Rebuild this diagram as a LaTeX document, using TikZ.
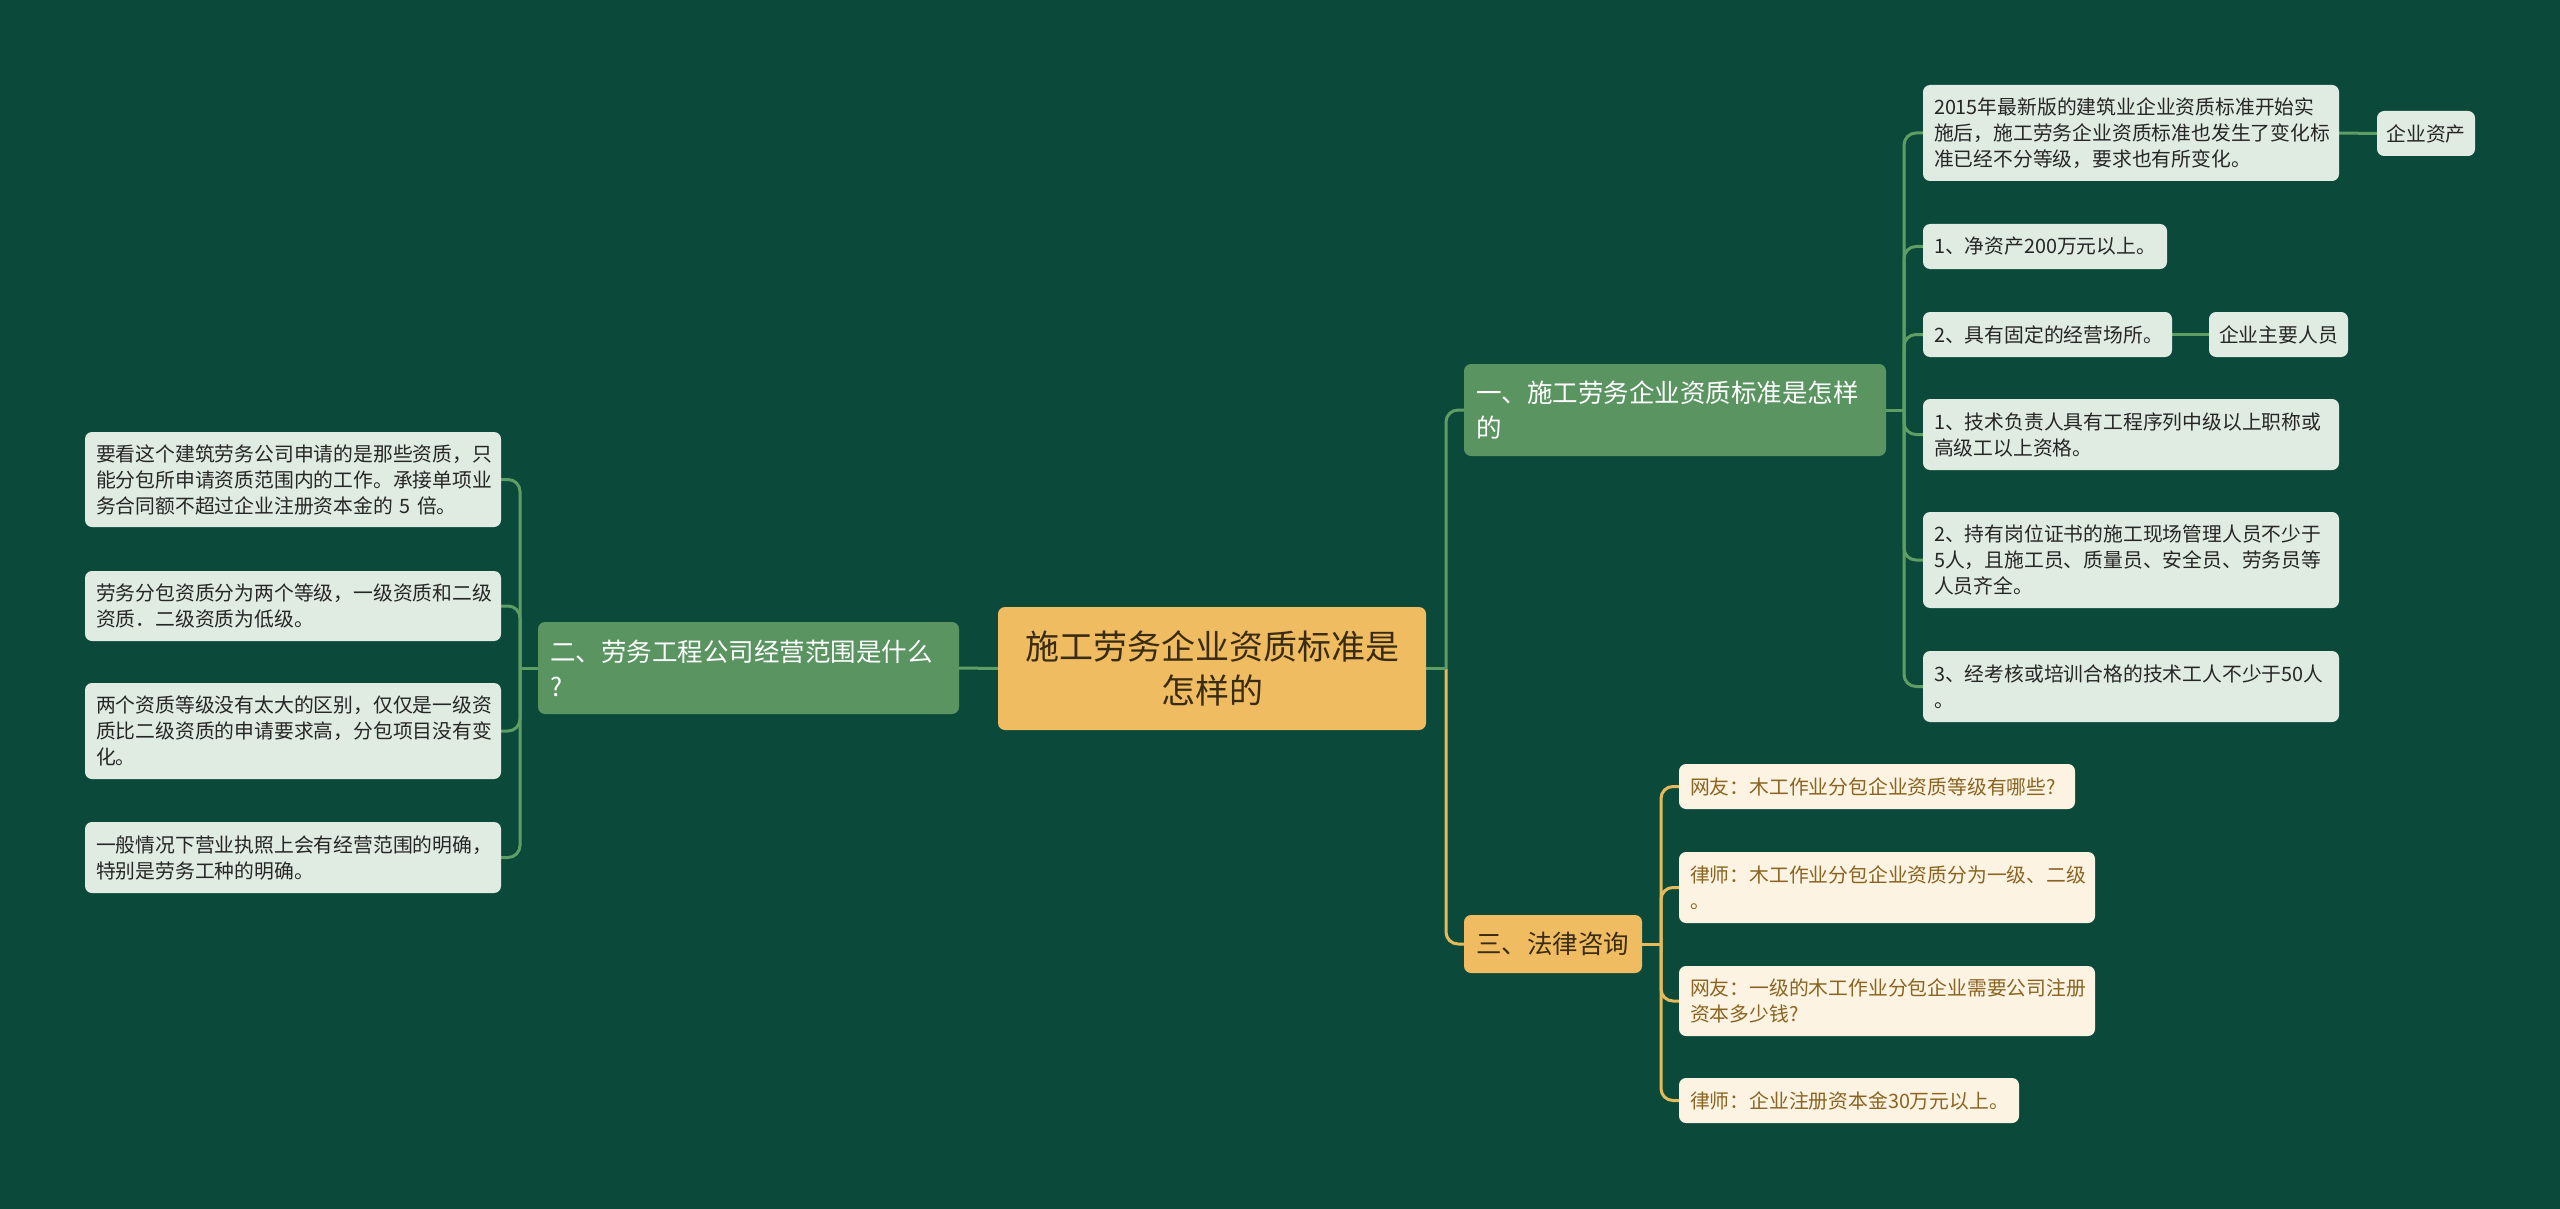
\documentclass[tikz,border=0pt]{standalone}
\usepackage{fontspec}
\setmainfont{Noto Sans CJK SC}
\usetikzlibrary{backgrounds}
\definecolor{bg}{HTML}{0B4A3A}
\definecolor{gnode}{HTML}{5A9461}
\definecolor{gleaf}{HTML}{E0EBE1}
\definecolor{onode}{HTML}{F0BC62}
\definecolor{cleaf}{HTML}{FCF3E3}
\definecolor{gline}{HTML}{5E9E64}
\definecolor{oline}{HTML}{E4BA5C}
\definecolor{btext}{HTML}{8A6420}
\definecolor{dtext}{HTML}{262626}
\definecolor{ctext}{HTML}{3A2C12}
\tikzset{
 box/.style={rounded corners=7pt, inner xsep=11pt, inner ysep=0pt, outer sep=0pt, anchor=north west, align=left},
 gleafbox/.style={box, fill=gleaf, text=dtext, font=\fontsize{19.8}{26}\selectfont},
 oleafbox/.style={box, fill=cleaf, text=btext, font=\fontsize{19.8}{26}\selectfont},
 gmain/.style={box, fill=gnode, text=white, inner xsep=12pt, font=\fontsize{25.5}{35}\selectfont},
 omain/.style={box, fill=onode, text=ctext, inner xsep=12pt, font=\fontsize{25.5}{35}\selectfont},
 rootbox/.style={box, fill=onode, text=ctext, align=center, inner xsep=10pt, font=\fontsize{34}{44}\selectfont},
 gconn/.style={draw=gline, line width=3pt, rounded corners=12pt},
 oconn/.style={draw=oline, line width=3pt, rounded corners=12pt},
}
\begin{document}
\begin{tikzpicture}[x=1pt,y=-1pt]
\useasboundingbox (0,0) rectangle (2560,1209);
% root
\node[rootbox, text width=408pt, minimum height=123pt] (c) at (998,607) {施工劳务企业资质标准是\\怎样的};
% branches
\node[gmain, text width=398pt, minimum height=92pt] (n1) at (1464,364) {一、施工劳务企业资质标准是怎样\\的};
\node[gmain, text width=397pt, minimum height=92pt] (n2) at (538,622) {二、劳务工程公司经营范围是什么\\?};
\node[omain, text width=154pt, minimum height=58pt] (n3) at (1464,915) {三、法律咨询};
% leaves of n1
\node[gleafbox, text width=394pt, minimum height=96pt] (l1) at (1923,85) {2015年最新版的建筑业企业资质标准开始实\\施后，施工劳务企业资质标准也发生了变化标\\准已经不分等级，要求也有所变化。};
\node[gleafbox, text width=80pt, inner xsep=9pt, align=center, minimum height=45pt] (l1a) at (2377,111) {企业资产};
\node[gleafbox, text width=222pt, minimum height=45pt] (l2) at (1923,224) {1、净资产200万元以上。};
\node[gleafbox, text width=227pt, minimum height=45pt] (l3) at (1923,312) {2、具有固定的经营场所。};
\node[gleafbox, text width=119pt, inner xsep=10pt, align=center, minimum height=45pt] (l3a) at (2209,312) {企业主要人员};
\node[gleafbox, text width=394pt, minimum height=71pt] (l4) at (1923,399) {1、技术负责人具有工程序列中级以上职称或\\高级工以上资格。};
\node[gleafbox, text width=394pt, minimum height=96pt] (l5) at (1923,512) {2、持有岗位证书的施工现场管理人员不少于\\5人，且施工员、质量员、安全员、劳务员等\\人员齐全。};
\node[gleafbox, text width=394pt, minimum height=71pt] (l6) at (1923,651) {3、经考核或培训合格的技术工人不少于50人\\。};
% leaves of n2
\node[gleafbox, text width=394pt, minimum height=95pt] (ka) at (85,432) {要看这个建筑劳务公司申请的是那些资质，只\\能分包所申请资质范围内的工作。承接单项业\\务合同额不超过企业注册资本金的 5 倍。};
\node[gleafbox, text width=394pt, minimum height=70pt] (kb) at (85,571) {劳务分包资质分为两个等级，一级资质和二级\\资质．二级资质为低级。};
\node[gleafbox, text width=394pt, minimum height=96pt] (kc) at (85,683) {两个资质等级没有太大的区别，仅仅是一级资\\质比二级资质的申请要求高，分包项目没有变\\化。};
\node[gleafbox, text width=394pt, minimum height=71pt] (kd) at (85,822) {一般情况下营业执照上会有经营范围的明确，\\特别是劳务工种的明确。};
% leaves of n3
\node[oleafbox, text width=374pt, minimum height=45pt] (q1) at (1679,764) {网友：木工作业分包企业资质等级有哪些?};
\node[oleafbox, text width=394pt, minimum height=71pt] (a1) at (1679,852) {律师：木工作业分包企业资质分为一级、二级\\。};
\node[oleafbox, text width=394pt, minimum height=70pt] (q2) at (1679,966) {网友：一级的木工作业分包企业需要公司注册\\资本多少钱?};
\node[oleafbox, text width=318pt, minimum height=45pt] (a2) at (1679,1078) {律师：企业注册资本金30万元以上。};
\begin{pgfonlayer}{background}
\fill[bg] (0,0) rectangle (2560,1209);
\path (c.east) ++(20,0) coordinate (tc);
\path (n1.east) ++(18,0) coordinate (t1);
\path (n2.west) ++(-18,0) coordinate (t2);
\path (n3.east) ++(19,0) coordinate (t3);
\draw[gconn] (c.west) -- (n2.east);
\draw[oconn] (tc) |- (n3.west);
\draw[gconn] (c.east) -- (tc);
\draw[gconn] (tc) |- (n1.west);
\draw[gconn] (n1.east) -- (t1);
\foreach \k in {l1,l2,l3,l4,l5,l6} \draw[gconn] (t1) |- (\k.west);
\draw[gconn] (l1.east) -- (l1a.west);
\draw[gconn] (l3.east) -- (l3a.west);
\draw[gconn] (n2.west) -- (t2);
\foreach \k in {ka,kb,kc,kd} \draw[gconn] (t2) |- (\k.east);
\draw[oconn] (n3.east) -- (t3);
\foreach \k in {q1,a1,q2,a2} \draw[oconn] (t3) |- (\k.west);
\end{pgfonlayer}
\end{tikzpicture}
\end{document}
